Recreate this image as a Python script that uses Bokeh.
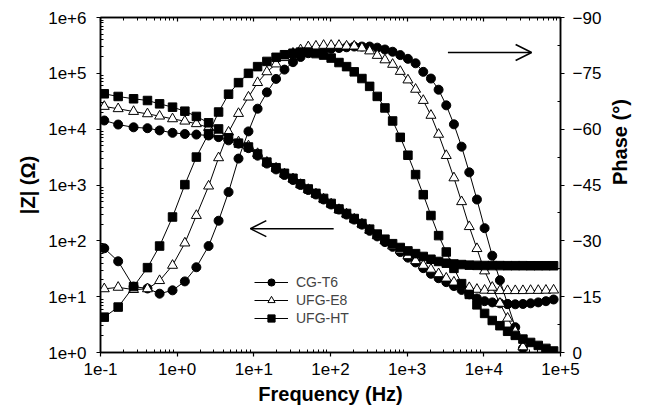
import math
from bokeh.plotting import figure
from bokeh.models import (Range1d, LinearAxis, LogAxis, FixedTicker, CustomJSTickFormatter,
                          Legend, LegendItem, Arrow, OpenHead, LinearScale)
from bokeh.embed import file_html
from bokeh.resources import INLINE

# ---------------- data ----------------
freq = [0.112, 0.17, 0.27, 0.41, 0.59, 0.87, 1.26, 1.78, 2.57, 3.47, 4.68, 6.31, 8.51,
        11.2, 14.8, 19.5, 25.1, 32.4, 40.7, 51.3, 64.6, 81.3, 102, 129, 162, 204, 257,
        324, 407, 513, 646, 813, 1023, 1288, 1622, 2042, 2570, 3236, 4074, 5129, 6457,
        8128, 10233, 12882, 16218, 20417, 25704, 32359, 40738, 51286, 64565, 81283]

z_cg = [14300, 12100, 10800, 10400, 9500, 8600, 8200, 8000, 7700, 7200, 6300, 5500, 4570,
        3350, 2420, 1900, 1510, 1230, 1000, 813, 676, 550, 447, 363, 295, 240, 195,
        151, 120, 95, 78, 63, 50, 41, 32.4, 25.7, 21.4, 18.2, 15.5, 13.2, 11.0,
        9.3, 8.3, 7.9, 7.6, 7.4, 7.3, 7.4, 7.6, 7.9, 8.3, 8.9]
z_e8 = [25500, 23200, 20700, 18800, 17100, 15300, 13900, 12500, 10700, 8700, 7100, 5900, 5000,
        3650, 2550, 2000, 1580, 1290, 1020, 830, 690, 560, 457, 363, 302, 245, 200,
        155, 123, 100, 81, 68, 54, 44, 36.3, 30.9, 25.7, 21.4, 18.2, 15.8, 14.5,
        13.5, 13.0, 12.9, 12.8, 12.8, 12.8, 12.8, 12.9, 12.9, 13.0, 13.1]
z_ht = [43000, 38500, 35000, 32600, 28400, 24800, 21000, 16900, 13000, 10100, 7000, 5620, 4790,
        3600, 2570, 2040, 1620, 1320, 1050, 850, 708, 575, 468, 372, 309, 251, 204,
        162, 132, 107, 89, 76, 66, 59, 52.5, 46.8, 42.7, 39.8, 38.5, 37.6, 36.7,
        36.3, 36.1, 36.0, 36.0, 35.9, 35.9, 35.9, 35.8, 35.8, 35.8, 35.8]

ph_cg = [-28, -24.5, -17.7, -17.2, -15.8, -16.7, -19.1, -22.9, -28.6, -35.4, -43.1, -52.1, -59.4,
         -65.5, -69.9, -73.5, -76, -78, -79.4, -80.4, -81, -81.4, -81.6, -81.8, -82, -82.2,
         -82.2, -82.2, -81.9, -81.4, -80.8, -79.9, -78.9, -77.7, -75.4, -73.6, -70.6, -66.4,
         -61.3, -55.3, -48.4, -41.1, -33.4, -26, -19.4, -13, -6.8, -1.1]
ph_e8 = [-17.1, -17.5, -16.9, -17.1, -19.3, -23.4, -29.4, -36.8, -44.7, -52.3, -59.2, -64.2, -68.6,
         -72.5, -75.4, -77.5, -79.2, -80.4, -81.3, -82.1, -82.3, -82.5, -82.5, -82.5, -82.3, -82.3,
         -81.8, -81, -79.8, -78.6, -77.4, -75.5, -73.2, -70.7, -67.7, -63.7, -58.6, -52.9,
         -46.9, -40.5, -33.8, -27.9, -21.9, -17.5, -13.2, -9.2, -5.7, -1.5]
ph_ht = [-9.5, -12.2, -17.7, -22.8, -28.6, -36.4, -45.1, -52.5, -58.8, -64.6, -69.4, -72.5, -75,
         -76.8, -78.2, -79.3, -80, -80.4, -80.7, -80.7, -80.3, -79.9, -79.1, -77.9, -76.8, -75.4,
         -73.6, -71.5, -68.8, -65.7, -62.2, -57.8, -53, -47.8, -42.4, -36.8, -31.4, -27,
         -22.6, -18.5, -15.6, -12.8, -10.5, -8.6, -7.2, -5.7, -4.6, -3.6, -2.7, -1.9, -1.1, -0.4]

labels = ["CG-T6", "UFG-E8", "UFG-HT"]
x_ticks = [0.1, 1, 10, 100, 1000, 10000, 100000]
y_ticks = [1, 10, 100, 1000, 10000, 100000, 1000000]
phase_ticks = [0, -15, -30, -45, -60, -75, -90]

# arrows (annotation positions)
arrow_z = dict(x_start=110, x_end=9, y=165)
arrow_ph = dict(x_start=3400, x_end=42000, y=-80.6)

FONT = "Liberation Sans"

p = figure(width=649, height=410, x_axis_type="log", y_axis_type="log",
           x_range=Range1d(0.1, 1e5), y_range=Range1d(1, 1e6),
           output_backend="svg", toolbar_location=None,
           min_border_left=100, min_border_right=89, min_border_top=17, min_border_bottom=58,
           x_axis_location=None, y_axis_location=None)
p.extra_y_ranges = {"phase": Range1d(start=0, end=-90)}
p.extra_y_scales = {"phase": LinearScale()}
p.xgrid.visible = False
p.ygrid.visible = False
p.outline_line_color = "black"
p.outline_line_width = 1.5
p.background_fill_color = "white"
p.border_fill_color = "white"

def minors(majors):
    out = []
    for m in majors[:-1]:
        out += [m * k for k in range(2, 10)]
    return out

fmt = CustomJSTickFormatter(code="return tick.toExponential(0);")

def style(ax, label_size="17px"):
    ax.axis_line_color = "black"
    ax.axis_line_width = 1.5
    ax.major_tick_line_color = "black"
    ax.minor_tick_line_color = "black"
    ax.major_tick_line_width = 1.2
    ax.minor_tick_line_width = 1
    ax.major_tick_out = 4
    ax.major_tick_in = 0
    ax.minor_tick_out = 0
    ax.minor_tick_in = 3
    ax.major_label_text_font = FONT
    ax.major_label_text_font_size = label_size
    ax.major_label_text_color = "black"
    ax.axis_label_text_font = FONT
    ax.axis_label_text_font_size = "20px"
    ax.axis_label_text_font_style = "bold"
    ax.axis_label_text_color = "black"

xt = FixedTicker(ticks=x_ticks, minor_ticks=minors(x_ticks))
yt = FixedTicker(ticks=y_ticks, minor_ticks=minors(y_ticks))
pt = FixedTicker(ticks=phase_ticks, minor_ticks=[-7.5, -22.5, -37.5, -52.5, -67.5, -82.5])

xb = LogAxis(ticker=xt, formatter=fmt, axis_label="Frequency (Hz)")
style(xb)
xb.major_label_standoff = 6
xb.axis_label_standoff = 5
p.add_layout(xb, "below")

xa = LogAxis(ticker=xt, major_label_text_font_size="0px")
style(xa)
xa.major_tick_out = 0
xa.major_tick_in = 4
xa.major_label_text_color = None
p.add_layout(xa, "above")

yl = LogAxis(ticker=yt, formatter=fmt, axis_label="|Z| (Ω)")
style(yl)
yl.major_label_standoff = 10
yl.axis_label_standoff = 6
p.add_layout(yl, "left")

yr = LinearAxis(y_range_name="phase", ticker=pt, axis_label="Phase (°)")
style(yr)
yr.major_label_standoff = 8
yr.axis_label_standoff = 16
try:
    yr.axis_label_orientation = math.pi / 2
except Exception:
    pass
p.add_layout(yr, "right")

markers = [dict(marker="circle", size=9, fill_color="black"),
           dict(marker="triangle", size=10, fill_color="white"),
           dict(marker="square", size=8.5, fill_color="black")]
zs = [z_cg, z_e8, z_ht]
phs = [ph_cg, ph_e8, ph_ht]

items = []
for lab, z, ph, mk in zip(labels, zs, phs, markers):
    zl = p.line(freq, z, line_color="black", line_width=1)
    zsct = p.scatter(freq, z, line_color="black", line_width=1, **mk)
    f2 = freq[:len(ph)]
    p.line(f2, ph, line_color="black", line_width=1, y_range_name="phase")
    p.scatter(f2, ph, line_color="black", line_width=1, y_range_name="phase", **mk)
    items.append(LegendItem(label=lab, renderers=[zl, zsct]))

legend = Legend(items=items, location=(154, 25), background_fill_alpha=0,
                border_line_color=None, label_text_font=FONT, label_text_font_size="14px",
                glyph_width=34, glyph_height=18, label_height=18, spacing=0,
                padding=0, margin=0, label_standoff=8)
p.add_layout(legend)

p.add_layout(Arrow(end=OpenHead(size=16, line_width=1.5, line_color="black"),
                   x_start=arrow_z["x_start"], y_start=arrow_z["y"],
                   x_end=arrow_z["x_end"], y_end=arrow_z["y"],
                   line_width=1.5, line_color="black"))
p.add_layout(Arrow(end=OpenHead(size=16, line_width=1.5, line_color="black"),
                   x_start=arrow_ph["x_start"], y_start=arrow_ph["y"],
                   x_end=arrow_ph["x_end"], y_end=arrow_ph["y"],
                   line_width=1.5, line_color="black", y_range_name="phase"))

open("out.html", "w").write(file_html(p, INLINE))
